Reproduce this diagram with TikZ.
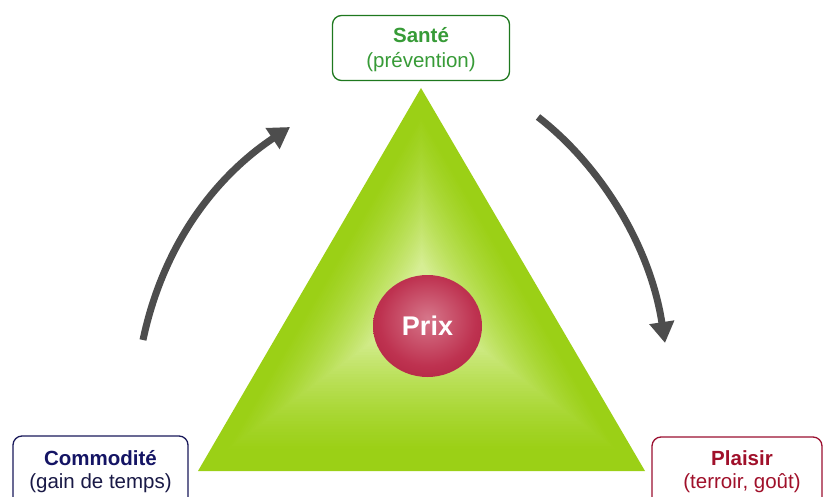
\documentclass[tikz,border=0pt]{standalone}
\usepackage{fontspec}
\setmainfont{Liberation Sans}
\usetikzlibrary{arrows.meta,calc,shapes.geometric}
\definecolor{trilight}{RGB}{214,238,148}
\definecolor{tridark}{RGB}{155,208,22}
\definecolor{prixin}{RGB}{214,118,138}
\definecolor{prixmid}{RGB}{190,50,80}
\definecolor{prixout}{RGB}{162,16,48}
\definecolor{santeborder}{RGB}{30,120,30}
\definecolor{santetext}{RGB}{55,155,55}
\definecolor{comborder}{RGB}{25,25,90}
\definecolor{comtext}{RGB}{20,20,100}
\definecolor{comsub}{RGB}{25,25,70}
\definecolor{plaisirborder}{RGB}{155,16,48}
\definecolor{plaisirtext}{RGB}{160,16,42}
\definecolor{arrowgray}{RGB}{77,77,77}
\pgfdeclareradialshading{prixshade}{\pgfpoint{0bp}{4bp}}{color(0bp)=(prixin); color(22bp)=(prixmid); color(46bp)=(prixout); color(60bp)=(prixout)}
\tikzset{
  box/.style={draw, rounded corners=9pt, line width=1.3pt, fill=white},
  lbl/.style={anchor=base, inner sep=0pt, font=\fontsize{20.5}{24}\selectfont},
  blbl/.style={lbl, font=\bfseries\fontsize{20.5}{24}\selectfont},
  cyc/.style={draw=arrowgray, line width=7pt, -{Triangle[width=24pt,length=21pt]}}
}
\begin{document}
\begin{tikzpicture}[x=1pt,y=-1pt]
\useasboundingbox (0,0) rectangle (824,497);
\clip (0,0) rectangle (824,497);
% triangle (pyramid-like shading: nested triangles toward the centre)
\coordinate (apex) at (421,88);
\coordinate (bl) at (198,471);
\coordinate (br) at (645,471);
\coordinate (ctr) at (422,305);
\foreach \i in {0,...,59}{
  \pgfmathsetmacro\s{1-\i/60}
  \pgfmathsetmacro\t{max(0,min(1,(\i/60-0.12)/0.68))}
  \pgfmathsetmacro\p{100*\t*(0.6+0.4*\t)}
  \fill[trilight!\p!tridark]
    ($(ctr)!\s!(apex)$) -- ($(ctr)!\s!(bl)$) -- ($(ctr)!\s!(br)$) -- cycle;
}
% price ball
\node[ellipse, minimum width=109pt, minimum height=102pt, inner sep=0pt, shading=prixshade, text=white,
      font=\bfseries\fontsize{27}{30}\selectfont] (prix) at (427.5,326) {Prix};
% boxes
\node[box, draw=santeborder, minimum width=177pt, minimum height=65pt, inner sep=0pt] (sante) at (421,48) {};
\node[blbl, text=santetext] (santeA) at (421,43) {Santé};
\node[lbl, text=santetext] (santeB) at (421,68) {(prévention)};
\node[box, draw=comborder, minimum width=175pt, minimum height=75pt, inner sep=0pt] (com) at (100.5,473.5) {};
\node[blbl, text=comtext] (comA) at (100.5,465) {Commodité};
\node[lbl, text=comsub] (comB) at (100.5,488) {(gain de temps)};
\node[box, draw=plaisirborder, minimum width=170pt, minimum height=75pt, inner sep=0pt] (plaisir) at (737,474.5) {};
\node[blbl, text=plaisirtext] (plA) at (742,465) {Plaisir};
\node[lbl, text=plaisirtext] (plB) at (742,488) {(terroir, goût)};
% cycle arrows
\coordinate (l0) at (143,340);
\coordinate (l1) at (290,127);
\coordinate (r0) at (538,117);
\coordinate (r1) at (665,343);
\draw[cyc] (l0) .. controls (163,245) and (215,177) .. (l1);
\draw[cyc] (r0) .. controls (600,165) and (650,245) .. (r1);
\end{tikzpicture}
\end{document}
